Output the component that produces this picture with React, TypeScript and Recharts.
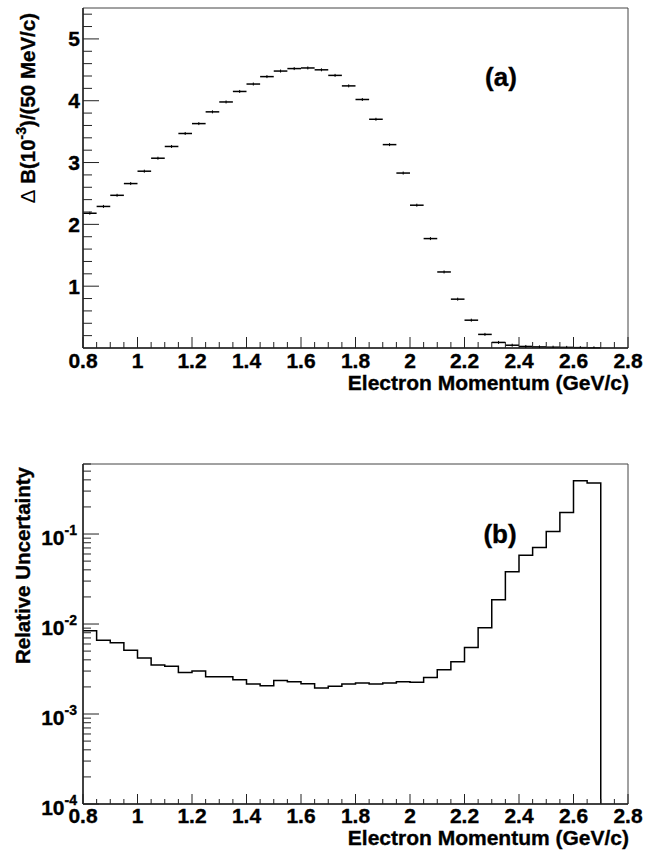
import {
  ScatterChart, Scatter, ErrorBar, LineChart, Line, XAxis, YAxis, ReferenceArea,
} from 'recharts'

// bin low edges (50 MeV/c bins)
const BIN_LOW = [
  0.8, 0.85, 0.9, 0.95, 1.0, 1.05, 1.1, 1.15, 1.2, 1.25,
  1.3, 1.35, 1.4, 1.45, 1.5, 1.55, 1.6, 1.65, 1.7, 1.75,
  1.8, 1.85, 1.9, 1.95, 2.0, 2.05, 2.1, 2.15, 2.2, 2.25,
  2.3, 2.35, 2.4, 2.45, 2.5, 2.55, 2.6, 2.65,
]
const BIN_HALF = 0.025
const HIST_END = 2.7

// (a) partial branching fraction, 10^-3 per 50 MeV/c
const DELTA_B = [
  2.18, 2.29, 2.47, 2.66, 2.86, 3.07, 3.26, 3.47, 3.63, 3.82,
  3.98, 4.15, 4.27, 4.39, 4.48, 4.52, 4.53, 4.5, 4.41, 4.24,
  4.02, 3.7, 3.29, 2.83, 2.31, 1.77, 1.23, 0.79, 0.45, 0.22,
  0.09, 0.045, 0.025, 0.018, 0.013, 0.01, 0.006, 0.003,
]

// (b) relative uncertainty
const REL_UNC = [
  0.0084, 0.0066, 0.0062, 0.0051, 0.0042, 0.0035, 0.0034, 0.0029, 0.003, 0.0026,
  0.0026, 0.0024, 0.00215, 0.00206, 0.00236, 0.00228, 0.00217, 0.00195, 0.00203, 0.00215,
  0.00221, 0.00215, 0.00221, 0.00228, 0.00226, 0.00255, 0.0031, 0.0038, 0.0055, 0.0091,
  0.0186, 0.038, 0.058, 0.071, 0.107, 0.173, 0.39, 0.37,
]

const X_MAJOR = [0.8, 1, 1.2, 1.4, 1.6, 1.8, 2, 2.2, 2.4, 2.6, 2.8]
const X_TICKS = Array.from({ length: 41 }, (_, i) => +(0.8 + 0.05 * i).toFixed(2))
const YA_MAJOR = [1, 2, 3, 4, 5]
const YA_TICKS = Array.from({ length: 27 }, (_, i) => +(0.2 * (i + 1)).toFixed(1))
const LOG_DECADES = [1e-4, 1e-3, 1e-2, 1e-1]
const LOG_EXP = ['-4', '-3', '-2', '-1']
const LOG_MAX = 0.6
const LOG_TICKS = LOG_DECADES.flatMap((d) =>
  [1, 2, 3, 4, 5, 6, 7, 8, 9].map((k) => +(d * k).toPrecision(3)).filter((v) => v <= LOG_MAX),
)

const FONT = '"Liberation Sans", Arial, Helvetica, sans-serif'
const AXIS = '#222'
// ROOT's bold Helvetica renders heavy, so thicken a bit with a thin stroke
const tickFont = {
  fontFamily: FONT, fontWeight: 700, fontSize: 21, fill: '#000', stroke: '#000', strokeWidth: 0.35,
}

const near = (list: number[], v: number) => list.some((m) => Math.abs(m - v) < 1e-9 * Math.max(1, Math.abs(m)))

const xTick = (len: number, minorLen: number, dy: number) => (p: any) => {
  const v = p.payload.value
  const major = near(X_MAJOR, v)
  return (
    <g>
      <line x1={p.x} x2={p.x} y1={p.y} y2={p.y - (major ? len : minorLen)} stroke={AXIS} />
      {major && (
        <text x={p.x} y={p.y + dy} textAnchor="middle" fontWeight="bold" style={tickFont}>{String(v)}</text>
      )}
    </g>
  )
}

const yTickLin = (p: any) => {
  const v = p.payload.value
  const major = near(YA_MAJOR, v)
  return (
    <g>
      <line x1={p.x} x2={p.x + (major ? 16 : 9)} y1={p.y} y2={p.y} stroke={AXIS} />
      {major && (
        <text x={p.x - 3} y={p.y + 7.5} textAnchor="end" fontWeight="bold" style={tickFont}>{String(v)}</text>
      )}
    </g>
  )
}

const yTickLog = (p: any) => {
  const v = p.payload.value
  const idx = LOG_DECADES.findIndex((d) => Math.abs(d - v) < d * 1e-6)
  const major = idx >= 0
  return (
    <g>
      <line x1={p.x} x2={p.x + (major ? 16 : 8)} y1={p.y} y2={p.y} stroke={AXIS} />
      {major && (
        <text x={p.x - 6} y={p.y + 11} textAnchor="end" fontWeight="bold" style={tickFont}>
          10<tspan dy={-10} fontSize={14}>{LOG_EXP[idx]}</tspan>
        </text>
      )}
    </g>
  )
}

const topData = BIN_LOW.map((lo, i) => ({ x: lo + BIN_HALF, y: DELTA_B[i], ex: BIN_HALF }))
const bottomData = [
  ...BIN_LOW.map((lo, i) => ({ x: lo, v: REL_UNC[i] })),
  { x: HIST_END, v: LOG_DECADES[0] },
]

export default function App() {
  const titleStyle = { fontFamily: FONT, fontWeight: 700, fill: '#000', stroke: '#000', strokeWidth: 0.35 }
  return (
    <div style={{ position: 'absolute', left: 0, top: 0, width: 657, height: 851, background: '#fff' }}>
      <div style={{ position: 'absolute', left: 0, top: 0 }}>
        <ScatterChart width={657} height={400} margin={{ top: 8, right: 29, bottom: 22, left: 23 }}>
          <XAxis
            type="number" dataKey="x" domain={[0.8, 2.8]} ticks={X_TICKS} interval={0}
            allowDataOverflow height={30} tickSize={0} tickMargin={0}
            axisLine={{ stroke: AXIS, strokeWidth: 1.5 }} tickLine={false} tick={xTick(11, 6, 20)}
          />
          <YAxis
            type="number" dataKey="y" domain={[0, 5.5]} ticks={YA_TICKS} interval={0}
            allowDataOverflow width={60} tickSize={0} tickMargin={0}
            axisLine={{ stroke: AXIS, strokeWidth: 1.5 }} tickLine={false} tick={yTickLin}
          />
          <ReferenceArea x1={0.8} x2={2.8} y1={0} y2={5.5} fill="none" stroke="#444" strokeWidth={1} />
          <Scatter
            data={topData}
            isAnimationActive={false}
            shape={(p: any) => (
              <line x1={p.cx} x2={p.cx} y1={p.cy - 1.5} y2={p.cy + 1.5} stroke="#000" strokeWidth={1} />
            )}
          >
            <ErrorBar dataKey="ex" direction="x" width={0} stroke="#000" strokeWidth={1.5} isAnimationActive={false} />
          </Scatter>
        </ScatterChart>
      </div>
      <div style={{ position: 'absolute', left: 0, top: 430 }}>
        <LineChart data={bottomData} width={657} height={421} margin={{ top: 34, right: 29, bottom: 17, left: 23 }}>
          <XAxis
            type="number" dataKey="x" domain={[0.8, 2.8]} ticks={X_TICKS} interval={0}
            allowDataOverflow height={30} tickSize={0} tickMargin={0}
            axisLine={{ stroke: AXIS, strokeWidth: 1.5 }} tickLine={false} tick={xTick(10, 5, 19)}
          />
          <YAxis
            type="number" scale="log" domain={[LOG_DECADES[0], LOG_MAX]} ticks={LOG_TICKS} interval={0}
            allowDataOverflow width={60} tickSize={0} tickMargin={0}
            axisLine={{ stroke: AXIS, strokeWidth: 1.5 }} tickLine={false} tick={yTickLog}
          />
          <ReferenceArea x1={0.8} x2={2.8} y1={LOG_DECADES[0]} y2={LOG_MAX} fill="none" stroke="#444" strokeWidth={1} />
          <Line
            type="stepAfter" dataKey="v" stroke="#000" strokeWidth={1.5} dot={false}
            isAnimationActive={false}
          />
        </LineChart>
      </div>
      <svg width={657} height={851} style={{ position: 'absolute', left: 0, top: 0, pointerEvents: 'none' }}>
        <text transform="translate(35, 13) rotate(-90)" textAnchor="end" fontSize={20.5} fontWeight="bold" style={titleStyle}>
          <tspan fontWeight={400} strokeWidth={0}>Δ</tspan> B(10<tspan dy={-9} fontSize={14}>-3</tspan>
          <tspan dy={9}>)/(50 MeV/c)</tspan>
        </text>
        <text x={629} y={390} textAnchor="end" fontSize={21} fontWeight="bold" style={titleStyle}>Electron Momentum (GeV/c)</text>
        <text x={501} y={85.5} textAnchor="middle" fontSize={26} fontWeight="bold" style={titleStyle}>(a)</text>
        <text transform="translate(30, 467) rotate(-90)" textAnchor="end" fontSize={20.5} fontWeight="bold" style={titleStyle}>
          Relative Uncertainty
        </text>
        <text x={629} y={845} textAnchor="end" fontSize={21} fontWeight="bold" style={titleStyle}>Electron Momentum (GeV/c)</text>
        <text x={500} y={543} textAnchor="middle" fontSize={26} fontWeight="bold" style={titleStyle}>(b)</text>
      </svg>
    </div>
  )
}
